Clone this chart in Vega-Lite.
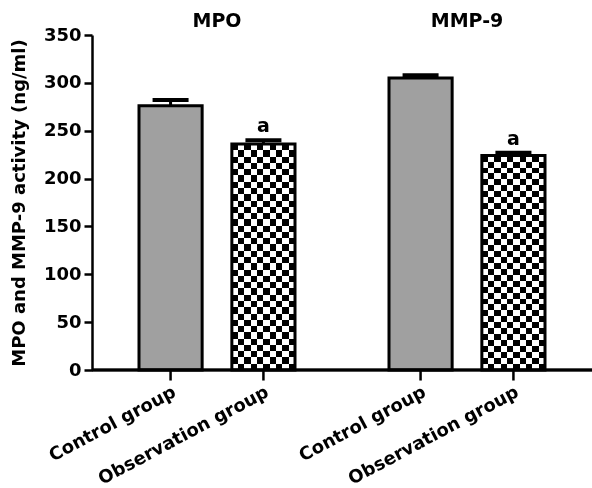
{
  "$schema": "https://vega.github.io/schema/vega-lite/v6.json",
  "width": 500,
  "height": 335,
  "autosize": {"type": "none"},
  "padding": {"left": 92, "top": 35, "right": 0, "bottom": 118},
  "background": "white",
  "config": {
    "font": "DejaVu Sans",
    "view": {"stroke": null},
    "axisX": {"domain": false, "ticks": false, "labelFont": "DejaVu Sans", "labelFontWeight": "bold", "labelFontSize": 19, "labelColor": "black", "labelPadding": 5, "labelAngle": 0},
    "axisY": {"grid": false, "domainColor": "black", "domainWidth": 2.5, "tickColor": "black", "tickWidth": 2.5, "tickSize": 8, "labelPadding": 3, "labelFont": "DejaVu Sans", "labelFontWeight": "bold", "labelFontSize": 18, "labelColor": "black", "titleFont": "DejaVu Sans", "titleFontWeight": "bold", "titleFontSize": 18, "titleColor": "black", "titlePadding": 15, "values": [0, 50, 100, 150, 200, 250, 300, 350]}
  },
  "data": {
    "values": [
      {"marker": "MPO", "group": "Control group", "value": 276, "upper": 282, "sig": ""},
      {"marker": "MPO", "group": "Observation group", "value": 236, "upper": 240, "sig": "a"},
      {"marker": "MMP-9", "group": "Control group", "value": 305, "upper": 308, "sig": ""},
      {"marker": "MMP-9", "group": "Observation group", "value": 224, "upper": 227, "sig": "a"}
    ]
  },
  "layer": [
    {
      "transform": [{"filter": "datum.group == 'Control group'"}],
      "mark": {"type": "bar", "fill": "#a0a0a0", "stroke": "black", "strokeWidth": 3},
      "encoding": {
        "x": {"field": "marker", "type": "nominal", "sort": ["MPO", "MMP-9"], "title": null, "axis": {"orient": "top"}, "scale": {"domain": ["MPO", "MMP-9"], "paddingInner": 0.376, "paddingOuter": 0.188}},
        "xOffset": {"field": "group", "type": "nominal", "sort": ["Control group", "Observation group"], "scale": {"domain": ["Control group", "Observation group"], "paddingInner": 0.32, "paddingOuter": 0}},
        "y": {"field": "value", "type": "quantitative", "title": "MPO and MMP-9 activity (ng/ml)", "scale": {"domain": [0, 350], "nice": false}}
      }
    },
    {
      "transform": [{"filter": "datum.group == 'Observation group'"}],
      "mark": {"type": "bar", "strokeWidth": 0, "fill": {"gradient": "linear", "x1": 0, "x2": 1, "y1": 0, "y2": 0, "stops": [
        {"offset": 0, "color": "#000"}, {"offset": 0.1, "color": "#000"}, {"offset": 0.1, "color": "#fff"}, {"offset": 0.2, "color": "#fff"},
        {"offset": 0.2, "color": "#000"}, {"offset": 0.3, "color": "#000"}, {"offset": 0.3, "color": "#fff"}, {"offset": 0.4, "color": "#fff"},
        {"offset": 0.4, "color": "#000"}, {"offset": 0.5, "color": "#000"}, {"offset": 0.5, "color": "#fff"}, {"offset": 0.6, "color": "#fff"},
        {"offset": 0.6, "color": "#000"}, {"offset": 0.7, "color": "#000"}, {"offset": 0.7, "color": "#fff"}, {"offset": 0.8, "color": "#fff"},
        {"offset": 0.8, "color": "#000"}, {"offset": 0.9, "color": "#000"}, {"offset": 0.9, "color": "#fff"}, {"offset": 1, "color": "#fff"}
      ]}},
      "encoding": {
        "x": {"field": "marker", "type": "nominal", "sort": ["MPO", "MMP-9"], "title": null, "axis": {"orient": "top"}},
        "xOffset": {"field": "group", "type": "nominal", "sort": ["Control group", "Observation group"]},
        "y": {"field": "value", "type": "quantitative", "title": "MPO and MMP-9 activity (ng/ml)"}
      }
    },
    {
      "transform": [{"filter": "datum.group == 'Observation group'"}],
      "mark": {"type": "bar", "strokeWidth": 0, "blend": "difference", "fill": {"gradient": "linear", "x1": 0, "x2": 0, "y1": 0, "y2": 1, "stops": [
        {"offset": 0, "color": "#000"}, {"offset": 0.0278, "color": "#000"}, {"offset": 0.0278, "color": "#fff"}, {"offset": 0.0556, "color": "#fff"},
        {"offset": 0.0556, "color": "#000"}, {"offset": 0.0833, "color": "#000"}, {"offset": 0.0833, "color": "#fff"}, {"offset": 0.1111, "color": "#fff"},
        {"offset": 0.1111, "color": "#000"}, {"offset": 0.1389, "color": "#000"}, {"offset": 0.1389, "color": "#fff"}, {"offset": 0.1667, "color": "#fff"},
        {"offset": 0.1667, "color": "#000"}, {"offset": 0.1944, "color": "#000"}, {"offset": 0.1944, "color": "#fff"}, {"offset": 0.2222, "color": "#fff"},
        {"offset": 0.2222, "color": "#000"}, {"offset": 0.25, "color": "#000"}, {"offset": 0.25, "color": "#fff"}, {"offset": 0.2778, "color": "#fff"},
        {"offset": 0.2778, "color": "#000"}, {"offset": 0.3056, "color": "#000"}, {"offset": 0.3056, "color": "#fff"}, {"offset": 0.3333, "color": "#fff"},
        {"offset": 0.3333, "color": "#000"}, {"offset": 0.3611, "color": "#000"}, {"offset": 0.3611, "color": "#fff"}, {"offset": 0.3889, "color": "#fff"},
        {"offset": 0.3889, "color": "#000"}, {"offset": 0.4167, "color": "#000"}, {"offset": 0.4167, "color": "#fff"}, {"offset": 0.4444, "color": "#fff"},
        {"offset": 0.4444, "color": "#000"}, {"offset": 0.4722, "color": "#000"}, {"offset": 0.4722, "color": "#fff"}, {"offset": 0.5, "color": "#fff"},
        {"offset": 0.5, "color": "#000"}, {"offset": 0.5278, "color": "#000"}, {"offset": 0.5278, "color": "#fff"}, {"offset": 0.5556, "color": "#fff"},
        {"offset": 0.5556, "color": "#000"}, {"offset": 0.5833, "color": "#000"}, {"offset": 0.5833, "color": "#fff"}, {"offset": 0.6111, "color": "#fff"},
        {"offset": 0.6111, "color": "#000"}, {"offset": 0.6389, "color": "#000"}, {"offset": 0.6389, "color": "#fff"}, {"offset": 0.6667, "color": "#fff"},
        {"offset": 0.6667, "color": "#000"}, {"offset": 0.6944, "color": "#000"}, {"offset": 0.6944, "color": "#fff"}, {"offset": 0.7222, "color": "#fff"},
        {"offset": 0.7222, "color": "#000"}, {"offset": 0.75, "color": "#000"}, {"offset": 0.75, "color": "#fff"}, {"offset": 0.7778, "color": "#fff"},
        {"offset": 0.7778, "color": "#000"}, {"offset": 0.8056, "color": "#000"}, {"offset": 0.8056, "color": "#fff"}, {"offset": 0.8333, "color": "#fff"},
        {"offset": 0.8333, "color": "#000"}, {"offset": 0.8611, "color": "#000"}, {"offset": 0.8611, "color": "#fff"}, {"offset": 0.8889, "color": "#fff"},
        {"offset": 0.8889, "color": "#000"}, {"offset": 0.9167, "color": "#000"}, {"offset": 0.9167, "color": "#fff"}, {"offset": 0.9444, "color": "#fff"},
        {"offset": 0.9444, "color": "#000"}, {"offset": 0.9722, "color": "#000"}, {"offset": 0.9722, "color": "#fff"}, {"offset": 1, "color": "#fff"}
      ]}},
      "encoding": {
        "x": {"field": "marker", "type": "nominal", "sort": ["MPO", "MMP-9"], "title": null, "axis": {"orient": "top"}},
        "xOffset": {"field": "group", "type": "nominal", "sort": ["Control group", "Observation group"]},
        "y": {"field": "value", "type": "quantitative", "title": "MPO and MMP-9 activity (ng/ml)"}
      }
    },
    {
      "transform": [{"filter": "datum.group == 'Observation group'"}],
      "mark": {"type": "bar", "fill": null, "fillOpacity": 0, "stroke": "black", "strokeWidth": 3},
      "encoding": {
        "x": {"field": "marker", "type": "nominal", "sort": ["MPO", "MMP-9"], "title": null, "axis": {"orient": "top"}},
        "xOffset": {"field": "group", "type": "nominal", "sort": ["Control group", "Observation group"]},
        "y": {"field": "value", "type": "quantitative", "title": "MPO and MMP-9 activity (ng/ml)"}
      }
    },
    {
      "mark": {"type": "rule", "color": "black", "strokeWidth": 3},
      "encoding": {
        "x": {"field": "marker", "type": "nominal", "sort": ["MPO", "MMP-9"], "title": null, "axis": {"orient": "top"}},
        "xOffset": {"field": "group", "type": "nominal", "sort": ["Control group", "Observation group"]},
        "y": {"field": "value", "type": "quantitative", "title": "MPO and MMP-9 activity (ng/ml)"},
        "y2": {"field": "upper"}
      }
    },
    {
      "mark": {"type": "tick", "color": "black", "size": 36, "thickness": 4, "opacity": 1},
      "encoding": {
        "x": {"field": "marker", "type": "nominal", "sort": ["MPO", "MMP-9"], "title": null, "axis": {"orient": "top"}},
        "xOffset": {"field": "group", "type": "nominal", "sort": ["Control group", "Observation group"]},
        "y": {"field": "upper", "type": "quantitative", "title": "MPO and MMP-9 activity (ng/ml)"}
      }
    },
    {
      "mark": {"type": "text", "font": "DejaVu Sans", "fontWeight": "bold", "fontSize": 19, "baseline": "bottom", "dy": -4, "color": "black"},
      "encoding": {
        "x": {"field": "marker", "type": "nominal", "sort": ["MPO", "MMP-9"], "title": null, "axis": {"orient": "top"}},
        "xOffset": {"field": "group", "type": "nominal", "sort": ["Control group", "Observation group"]},
        "y": {"field": "upper", "type": "quantitative", "title": "MPO and MMP-9 activity (ng/ml)"},
        "text": {"field": "sig"}
      }
    },
    {
      "mark": {"type": "rule", "color": "black", "strokeWidth": 2.5},
      "encoding": {
        "y": {"datum": 0}
      }
    },
    {
      "mark": {"type": "rule", "color": "black", "strokeWidth": 2.5},
      "encoding": {
        "x": {"field": "marker", "type": "nominal", "sort": ["MPO", "MMP-9"], "title": null, "axis": {"orient": "top"}},
        "xOffset": {"field": "group", "type": "nominal", "sort": ["Control group", "Observation group"]},
        "y": {"datum": 0},
        "y2": {"datum": -11}
      }
    },
    {
      "mark": {"type": "text", "font": "DejaVu Sans", "fontWeight": "bold", "fontSize": 18, "angle": -28, "align": "right", "baseline": "top", "color": "black"},
      "encoding": {
        "x": {"field": "marker", "type": "nominal", "sort": ["MPO", "MMP-9"], "title": null, "axis": {"orient": "top"}},
        "xOffset": {"field": "group", "type": "nominal", "sort": ["Control group", "Observation group"]},
        "y": {"datum": -14},
        "text": {"field": "group"}
      }
    }
  ]
}
